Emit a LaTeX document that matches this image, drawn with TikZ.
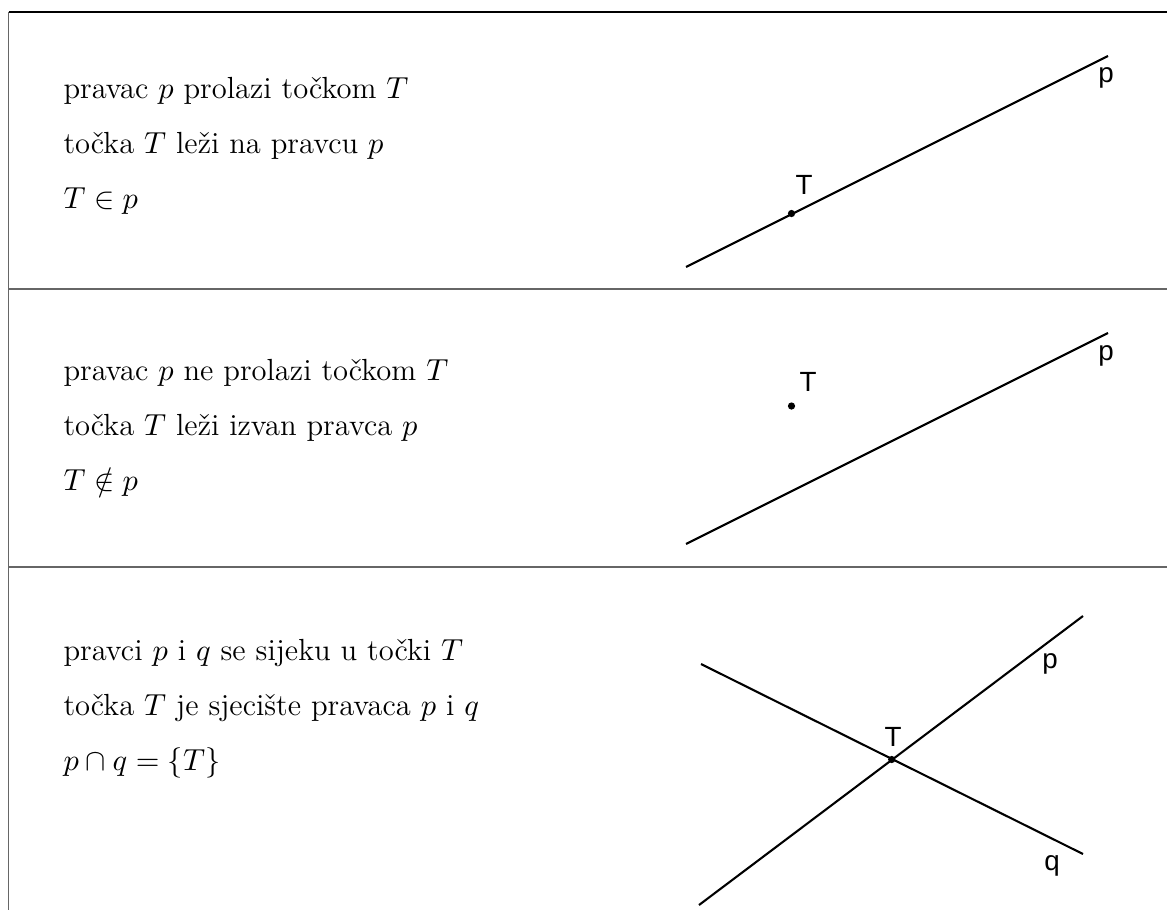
\documentclass[tikz,border=0pt]{standalone}
\usepackage{amssymb}
\usepackage{fontspec}
\newfontfamily\labelfont{Liberation Sans}
\tikzset{
	frameline/.style={draw=black!60, line width=0.6pt},
	geomline/.style={draw=black, line width=0.75pt},
	geomdot/.style={shape=circle, fill=black, inner sep=0pt, minimum size=2.6pt},
	geomlabel/.style={anchor=center, inner sep=0pt, font=\labelfont},
	infotext/.style={anchor=base west, inner sep=0pt, font=\fontsize{11}{13}\selectfont}
}
\begin{document}
\begin{tikzpicture}[x=0.36pt, y=-0.36pt]
	\useasboundingbox (0, 0) rectangle (1167, 910);
	% Frame:
	\coordinate (fTL) at (8.5, 12);
	\coordinate (fTR) at (1167, 12);
	\coordinate (fBL) at (8.5, 910);
	\coordinate (fAL) at (8.5, 289);
	\coordinate (fAR) at (1167, 289);
	\coordinate (fBLm) at (8.5, 567);
	\coordinate (fBRm) at (1167, 567);
	\draw[line width=0.4pt] (fTL) -- (fTR);
	\draw[frameline] (fTL) -- (fBL);
	\draw[frameline] (fAL) -- (fAR);
	\draw[frameline] (fBLm) -- (fBRm);
	% Texts:
	\node[infotext] (t11) at (63, 98){pravac $p$ prolazi točkom $T$};
	\node[infotext] (t12) at (63, 153){točka $T$ leži na pravcu $p$};
	\node[infotext] (t13) at (63, 208){$T \in p$};
	\node[infotext] (t21) at (63, 380){pravac $p$ ne prolazi točkom $T$};
	\node[infotext] (t22) at (63, 435){točka $T$ leži izvan pravca $p$};
	\node[infotext] (t23) at (63, 490){$T \notin p$};
	\node[infotext] (t31) at (63, 660){pravci $p$ i $q$ se sijeku u točki $T$};
	\node[infotext] (t32) at (63, 715){točka $T$ je sjecište pravaca $p$ i $q$};
	\node[infotext] (t33) at (63, 770){$p \cap q = \{T\}$};
	% Panel 1:
	\coordinate (p1a) at (686, 267);
	\coordinate (p1b) at (1108, 56);
	\draw[geomline] (p1a) -- (p1b);
	\node[geomdot] (T1) at (791.5, 213.5){};
	\node[geomlabel] (T1lab) at (804, 185){T};
	\node[geomlabel] (p1lab) at (1106, 78){p};
	% Panel 2:
	\coordinate (p2a) at (686, 544);
	\coordinate (p2b) at (1108, 333);
	\draw[geomline] (p2a) -- (p2b);
	\node[geomdot] (T2) at (791.5, 406){};
	\node[geomlabel] (T2lab) at (808, 382){T};
	\node[geomlabel] (p2lab) at (1106, 356){p};
	% Panel 3:
	\coordinate (p3a) at (699, 905);
	\coordinate (p3b) at (1083, 616);
	\coordinate (q3a) at (701, 664);
	\coordinate (q3b) at (1083, 854);
	\draw[geomline] (p3a) -- (p3b);
	\draw[geomline] (q3a) -- (q3b);
	\node[geomdot] (T3) at (891.7, 759.5){};
	\node[geomlabel] (T3lab) at (893, 737){T};
	\node[geomlabel] (p3lab) at (1050, 664){p};
	\node[geomlabel] (q3lab) at (1052, 866){q};
\end{tikzpicture}
\end{document}
